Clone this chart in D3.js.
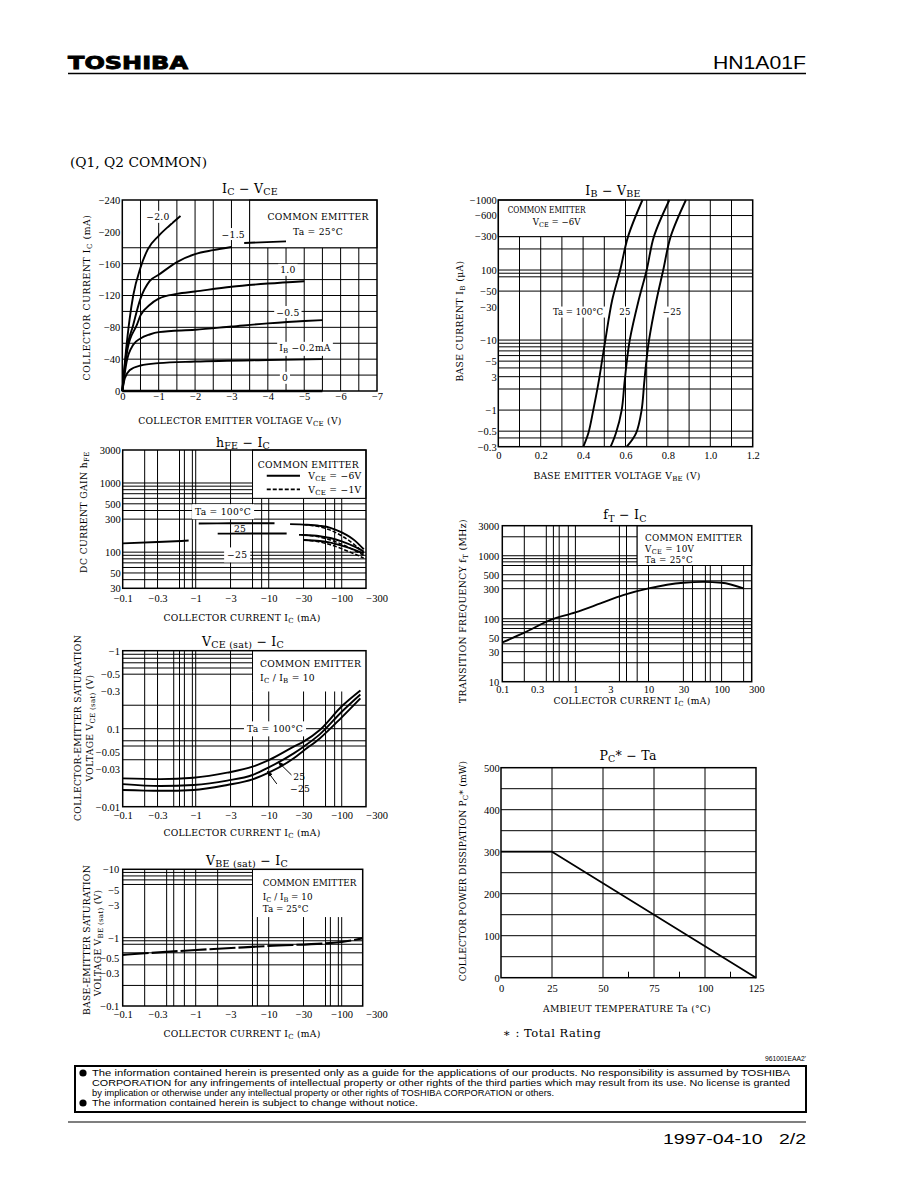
<!DOCTYPE html>
<html><head><meta charset="utf-8">
<script src="https://cdn.jsdelivr.net/npm/d3@7"></script>
<style>body{margin:0;background:#fff}svg{display:block}</style>
</head><body>
<script>
// ================= DATA =================
// IC – VCE  (|VCE| in V, |IC| in mA), common emitter, Ta = 25°C
const vceIb20 = [0, 0.1, 0.2, 0.3, 0.5, 0.7, 1.0, 1.3, 1.6];
const icIb20  = [0, 50, 90, 120, 155, 178, 195, 208, 220];
const vceIb15 = [0, 0.1, 0.3, 0.5, 0.75, 1.0, 1.5, 2.0, 2.5, 3.0, 3.2, 3.35, 4.5];
const icIb15  = [0, 45, 83, 116, 138, 146, 162, 172, 177, 181, null, 186, 188];
const vceIb10 = [0, 0.15, 0.4, 0.5, 0.75, 1.0, 1.5, 2.0, 3.0, 4.0, 5.0];
const icIb10  = [0, 54, 83, 95, 108, 116, 122, 125, 131, 135, 138];
const vceIb05 = [0, 0.12, 0.3, 0.5, 0.75, 1.0, 2.0, 3.0, 4.0, 5.0, 5.5];
const icIb05  = [0, 37, 58, 66, 71, 74, 77, 81, 85, 88, 89];
const vceIb02 = [0, 0.07, 0.2, 0.5, 1.0, 2.0, 4.0, 5.5];
const icIb02  = [0, 16, 26, 32, 35, 37, 39, 40];
const vceIb0  = [0, 5.5];
const icIb0   = [0, 0];

// IB – VBE  (|IB| in µA, |VBE| in V), VCE = -6V
const ibVals  = [0.3, 0.47, 1, 2.4, 5.2, 10, 37, 100, 300, 1000];
const vbe100  = [0.401, 0.425, 0.448, 0.472, 0.490, 0.505, 0.537, 0.575, 0.612, 0.680];
const vbe25   = [0.530, 0.555, 0.582, 0.595, 0.607, 0.620, 0.662, 0.700, 0.734, 0.807];
const vbeM25  = [0.606, 0.650, 0.676, 0.688, 0.699, 0.711, 0.746, 0.778, 0.813, 0.885];

// hFE – IC  (|IC| in mA); solid VCE=-6V, dashed VCE=-1V (gaps as in the scan)
const hfeIC    = [0.1, 0.3, 0.8, 1.1, 2, 5, 12, 15, 17.6, 19.6, 26, 30, 50, 70, 100, 150, 200];
const hfe100   = [null, null, null, 260, 261, 262, 262, null, null, 254, 252, 250, 240, 225, 193, 148, 110];
const hfe25    = [null, null, null, null, 185, 186, 186, 186, 186, null, 178, 177, 170, 160, 143, 120, 102];
const hfeM25   = [134, 140, 147, null, null, null, null, null, null, null, null, 150, 145, 137, 124, 108, 96];
const hfe100d  = [null, null, null, null, null, null, null, null, null, null, null, 250, 232, 208, 172, 128, 98];
const hfe25d   = [null, null, null, null, null, null, null, null, null, null, null, 177, 165, 150, 130, 106, 90];
const hfeM25d  = [null, null, null, null, null, null, null, null, null, null, null, 150, 140, 128, 112, 94, 82];

// fT – IC  (IC in mA, fT in MHz), VCE = 10V, Ta = 25°C
const ftIC   = [0.1, 0.2, 0.45, 1, 2.2, 4.5, 10, 30, 56, 100, 200];
const ftVals = [42, 60, 95, 126, 175, 237, 303, 373, 385, 373, 303];

// VCE(sat) – IC  (|IC| mA, |VCE(sat)| V), IC/IB = 10
const vcesIC  = [0.1, 0.33, 0.93, 2.7, 6, 10, 22, 30, 50, 100, 180];
const vces100 = [0.0231, 0.0226, 0.0235, 0.0273, 0.0326, 0.0396, 0.0588, 0.0682, 0.0962, 0.194, 0.31];
const vces25  = [0.0195, 0.0184, 0.0190, 0.0216, 0.0255, 0.0319, 0.0483, 0.0588, 0.0846, 0.165, 0.275];
const vcesM25 = [0.0164, 0.0160, 0.0164, 0.0190, 0.0224, 0.0273, 0.0417, 0.0522, 0.0751, 0.140, 0.245];

// VBE(sat) – IC  (|IC| mA, |VBE(sat)| V), IC/IB = 10, Ta = 25°C
const vbesIC  = [0.1, 1, 10, 100, 190];
const vbesVal = [0.56, 0.66, 0.755, 0.866, 0.975];

// PC* – Ta  (Ta °C, PC mW)
const paTa = [0, 25, 125];
const paPc = [300, 300, 0];

// ----- tick labels / grid values -----
const c1xTicks = [0,1,2,3,4,5,6,7],           c1xLabels = ["0","−1","−2","−3","−4","−5","−6","−7"];
const c1yTicks = [0,40,80,120,160,200,240],   c1yLabels = ["0","−40","−80","−120","−160","−200","−240"];
const c1xGrid = [0.5,1,1.5,2,2.5,3,3.5,4,4.5,5,5.5,6,6.5];
const c1yGrid = [20,40,60,80,100,120,140,160,180];

const c2xTicks = [0,0.2,0.4,0.6,0.8,1.0,1.2], c2xLabels = ["0","0.2","0.4","0.6","0.8","1.0","1.2"];
const c2yTicks = [0.3,0.5,1,3,5,10,30,50,100,300,600,1000];
const c2yLabels = ["−0.3","−0.5","−1","3","−5","−10","−30","−50","100","−300","−600","−1000"];
const c2xGrid = [0.1,0.2,0.3,0.4,0.5,0.6,0.7,0.8,0.9,1.0,1.1];
const c2yGrid = [0.4,0.5,1,2,3,4,5,6,7,8,9,10,50,80,90,100,200,300,600];

const icTicks = [0.1,0.3,1,3,10,30,100,300];
const icLabelsNeg = ["−0.1","−0.3","−1","−3","−10","−30","−100","−300"];
const icLabelsPos = ["0.1","0.3","1","3","10","30","100","300"];

const c3yTicks = [30,50,100,300,500,1000,3000], c3yLabels = ["30","50","100","300","500","1000","3000"];
const c3xGrid = [0.2,0.3,0.6,0.7,0.9,1,3,6,8,10,30,60,80,100];
const c3yGrid = [40,50,60,70,80,90,100,300,400,500,600,700,800,900,1000];

const c4yTicks = [10,30,50,100,300,500,1000,3000], c4yLabels = ["10","30","50","100","300","500","1000","3000"];
const c4xGrid = [0.2,0.4,0.5,0.6,0.8,1,4,5,7,10,30,40,60,70,100,200];
const c4yGrid = [20,30,40,50,60,70,80,90,100,300,400,500,700,800,900,1000,2000];

const c5yTicks = [0.01,0.03,0.05,0.1,0.3,0.5,1], c5yLabels = ["−0.01","−0.03","−0.05","0.1","−0.3","−0.5","−1"];
const c5xGrid = [0.2,0.3,0.5,0.6,0.7,0.9,1,3,6,10,30,60,80,100];
const c5yGrid = [0.04,0.06,0.07,0.1,0.2,0.5,0.6,0.7,0.8,0.9];

const c6xTicks = [0,25,50,75,100,125],        c6xLabels = ["0","25","50","75","100","125"];
const c6yTicks = [0,100,200,300,400,500],     c6yLabels = ["0","100","200","300","400","500"];
const c6xGrid = [25,50,75,100];
const c6yGrid = [50,100,150,200,250,300,350,400,450];
const c6minor = [62.5,87.5,112.5];

const c7yTicks = [0.1,0.3,0.5,1,3,5,10], c7yLabels = ["−0.1","−0.3","−0.5","−1","−3","−5","−10"];
const c7xGrid = [0.2,0.4,0.5,0.7,1,2,6,7,10,30,60,70,90,100];
const c7yGrid = [0.2,0.4,0.6,0.8,0.9,1,6,7,8,9];

// ================= DRAWING =================
const W = 918, H = 1188;
const SERIF = "'DejaVu Serif','Liberation Serif',serif";
const TICKF = "'Liberation Serif','DejaVu Serif',serif";
const SANS = "'Liberation Sans','DejaVu Sans',sans-serif";
const svg = d3.select('body').append('svg').attr('width', W).attr('height', H);
svg.append('rect').attr('width', W).attr('height', H).attr('fill', '#fff');

function rich(parent, parts, o) {
  const size = o.size || 9.2;
  const t = parent.append('text').attr('font-family', SERIF).attr('font-size', size)
    .attr('text-anchor', o.anchor || 'middle').attr('letter-spacing', o.ls == null ? 0.25 : o.ls)
    .attr('fill', '#000');
  if (o.len) t.attr('textLength', o.len).attr('lengthAdjust', 'spacingAndGlyphs');
  const off = o.center ? size * 0.36 : 0;
  if (o.rotate) t.attr('transform', `translate(${o.x + off},${o.y}) rotate(-90)`);
  else t.attr('x', o.x).attr('y', o.y + off);
  let cur = 0;
  parts.forEach(p => {
    const isSub = Array.isArray(p);
    const ts = t.append('tspan').text(isSub ? p[0] : p);
    const want = isSub ? size * 0.22 : 0;
    if (want !== cur) { ts.attr('dy', want - cur); cur = want; }
    if (isSub) ts.attr('font-size', size * 0.76);
  });
  return t;
}
function whiteBg(parent, t, px, py) {
  const b = t.node().getBBox();
  parent.insert('rect', () => t.node()).attr('x', b.x - px).attr('y', b.y - py)
    .attr('width', b.width + 2 * px).attr('height', b.height + 2 * py).attr('fill', '#fff');
}

function panel(c) {
  const g = svg.append('g');
  const x = c.x, y = c.y;
  const [xa, xb] = x.range(), [ya, yb] = y.range();
  const gr = g.append('g').attr('stroke', '#000').attr('stroke-width', 1);
  gr.selectAll(null).data(c.xGrid).join('line')
    .attr('x1', d => x(d)).attr('x2', d => x(d)).attr('y1', yb).attr('y2', ya);
  gr.selectAll(null).data(c.yGrid).join('line')
    .attr('y1', d => y(d)).attr('y2', d => y(d)).attr('x1', xa).attr('x2', xb);
  if (c.box) {
    const [bx0, bx1, by0, by1] = c.box;
    g.append('rect').attr('x', x(bx0)).attr('y', y(by1))
      .attr('width', x(bx1) - x(bx0)).attr('height', y(by0) - y(by1))
      .attr('fill', '#fff').attr('stroke', c.boxBorder === 'all' ? '#000' : 'none').attr('stroke-width', 1);
    if (c.boxBorder === 'left')
      g.append('line').attr('x1', x(bx0)).attr('x2', x(bx0)).attr('y1', y(by1)).attr('y2', y(by0))
        .attr('stroke', '#000').attr('stroke-width', 1);
  }
  g.append('rect').attr('x', xa).attr('y', yb).attr('width', xb - xa).attr('height', ya - yb)
    .attr('fill', 'none').attr('stroke', '#000').attr('stroke-width', 1.5);
  const styleAxis = a => { a.select('.domain').remove(); a.attr('font-family', TICKF).attr('font-size', 10.5); a.selectAll('text').attr('fill', '#000'); };
  g.append('g').attr('transform', `translate(${xa},0)`)
    .call(d3.axisLeft(y).tickValues(c.yTicks).tickFormat((d, i) => c.yLabels[i]).tickSize(0).tickPadding(c.yPad))
    .call(styleAxis);
  g.append('g').attr('transform', `translate(0,${ya})`)
    .call(d3.axisBottom(x).tickValues(c.xTicks).tickFormat((d, i) => c.xLabels[i]).tickSize(0).tickPadding(c.xPad))
    .call(styleAxis);
  return g;
}
function curve(g, c, xs, ys, o = {}) {
  const pts = xs.map((v, i) => [v, ys[i]]);
  const line = d3.line().defined(d => d[1] != null && d[0] != null)
    .x(d => c.x(d[0])).y(d => c.y(d[1])).curve(o.curve || d3.curveMonotoneX);
  g.append('path').attr('d', line(pts)).attr('fill', 'none').attr('stroke', '#000')
    .attr('stroke-width', o.w || 1.9).attr('stroke-dasharray', o.dash || null)
    .attr('stroke-linejoin', 'round');
}
const TS = 12.5; // chart title size

// ---------- Header ----------
svg.append('text').attr('x', 68).attr('y', 68.5).attr('font-family', "'DejaVu Sans',sans-serif")
  .attr('font-weight', 'bold').attr('font-size', 18.5).attr('textLength', 120).attr('lengthAdjust', 'spacingAndGlyphs')
  .attr('stroke', '#000').attr('stroke-width', 0.9).text('TOSHIBA');
svg.append('text').attr('x', 713).attr('y', 68.5).attr('font-family', SANS)
  .attr('font-size', 18.5).attr('textLength', 93).attr('lengthAdjust', 'spacingAndGlyphs').text('HN1A01F');
svg.append('line').attr('x1', 68).attr('x2', 806).attr('y1', 73.5).attr('y2', 73.5).attr('stroke', '#000').attr('stroke-width', 1.3);
svg.append('text').attr('x', 70).attr('y', 167).attr('font-family', SERIF).attr('font-size', 12)
  .attr('textLength', 137).attr('lengthAdjust', 'spacingAndGlyphs').text('(Q1, Q2 COMMON)');

// ---------- Chart 1 : IC – VCE ----------
{
  const c = { x: d3.scaleLinear([0, 7], [122.3, 377]), y: d3.scaleLinear([0, 240], [391, 200]),
    xGrid: c1xGrid, yGrid: c1yGrid, box: [3.5, 7, 180, 240], boxBorder: 'all',
    xTicks: c1xTicks, xLabels: c1xLabels, yTicks: c1yTicks, yLabels: c1yLabels, yPad: 2, xPad: 1.8 };
  const g = panel(c);
  curve(g, c, vceIb20, icIb20);
  curve(g, c, vceIb15, icIb15);
  curve(g, c, vceIb10, icIb10);
  curve(g, c, vceIb05, icIb05);
  curve(g, c, vceIb02, icIb02);
  curve(g, c, vceIb0, icIb0, { w: 2.6 });
  const L = (parts, vx, vy, bg) => { const t = rich(g, parts, { x: c.x(vx), y: c.y(vy), center: true }); if (bg) whiteBg(g, t, 2, 0.5); return t; };
  L(['−2.0'], 0.98, 218.6, true);
  L(['−1.5'], 3.05, 197, true);
  L(['1.0'], 4.55, 152, true);
  L(['−0.5'], 4.55, 99, true);
  L(['I', ['B'], '   −0.2mA'], 5.02, 54, true);
  L(['0'], 4.47, 16.3, true);
  L(['COMMON EMITTER'], 5.38, 219);
  L(['Ta = 25°C'], 5.38, 200);
  rich(svg, ['I', ['C'], '  −  V', ['CE']], { x: 250, y: 192.5, size: TS });
  rich(svg, ['COLLECTOR CURRENT   I', ['C'], '   (mA)'], { x: 87, y: 297.5, rotate: true, center: true, ls: 0.6 });
  rich(svg, ['COLLECTOR EMITTER VOLTAGE   V', ['CE'], '   (V)'], { x: 240, y: 423.5 });
}

// ---------- Chart 2 : IB – VBE ----------
{
  const c = { x: d3.scaleLinear([0, 1.2], [498.3, 752.7]), y: d3.scaleLog([0.3, 1000], [446.7, 200]),
    xGrid: c2xGrid, yGrid: c2yGrid, box: [0, 0.6, 300, 1000], boxBorder: 'all',
    xTicks: c2xTicks, xLabels: c2xLabels, yTicks: c2yTicks, yLabels: c2yLabels, yPad: 1.6, xPad: 4.5 };
  const g = panel(c);
  const cr = d3.curveCatmullRom.alpha(0.5);
  curve(g, c, vbe100, ibVals, { curve: cr });
  curve(g, c, vbe25, ibVals, { curve: cr });
  curve(g, c, vbeM25, ibVals, { curve: cr });
  const L = (parts, vx, vy, bg, o = {}) => { const t = rich(g, parts, Object.assign({ x: c.x(vx), y: c.y(vy), center: true }, o)); if (bg) whiteBg(g, t, 2, 0.5); return t; };
  L(['COMMON EMITTER'], 0.228, 722, false, { size: 8.6, len: 78, ls: 0 });
  L(['V', ['CE'], ' = −6V'], 0.275, 482, false, { size: 8.6, ls: 0 });
  L(['Ta = 100°C'], 0.376, 25.2, true, { size: 8.6, ls: 0 });
  L(['25'], 0.598, 25.2, true, { size: 8.6 });
  L(['−25'], 0.82, 25.2, true, { size: 8.6 });
  rich(svg, ['I', ['B'], '  −  V', ['BE']], { x: 613, y: 194.5, size: TS });
  rich(svg, ['BASE CURRENT   I', ['B'], '   (μA)'], { x: 460, y: 321, rotate: true, center: true, ls: 0.4 });
  rich(svg, ['BASE EMITTER VOLTAGE   V', ['BE'], '   (V)'], { x: 617, y: 478.5 });
}

// ---------- Chart 3 : hFE – IC ----------
{
  const c = { x: d3.scaleLog([0.1, 215], [122.7, 366]), y: d3.scaleLog([30, 3000], [588.3, 450]),
    xGrid: c3xGrid, yGrid: c3yGrid, box: [6, 215, 600, 3000], boxBorder: 'all',
    xTicks: icTicks, xLabels: icLabelsNeg, yTicks: c3yTicks, yLabels: c3yLabels, yPad: 2, xPad: 6 };
  const g = panel(c);
  curve(g, c, hfeIC, hfe100);
  curve(g, c, hfeIC, hfe25);
  curve(g, c, hfeIC, hfeM25);
  curve(g, c, hfeIC, hfe100d, { dash: '4,2', w: 1.5 });
  curve(g, c, hfeIC, hfe25d, { dash: '4,2', w: 1.5 });
  curve(g, c, hfeIC, hfeM25d, { dash: '4,2', w: 1.5 });
  const L = (parts, vx, vy, bg, anchor) => { const t = rich(g, parts, { x: c.x(vx), y: c.y(vy), center: true, anchor }); if (bg) whiteBg(g, t, 3, 2); return t; };
  L(['COMMON EMITTER'], 34.9, 1858);
  g.append('line').attr('x1', c.x(9.4)).attr('x2', c.x(26.8)).attr('y1', c.y(1272)).attr('y2', c.y(1272)).attr('stroke', '#000').attr('stroke-width', 1.9);
  g.append('line').attr('x1', c.x(9.4)).attr('x2', c.x(26.8)).attr('y1', c.y(809)).attr('y2', c.y(809)).attr('stroke', '#000').attr('stroke-width', 1.7).attr('stroke-dasharray', '4,2');
  L(['V', ['CE'], ' = −6V'], 34.9, 1272, false, 'start');
  L(['V', ['CE'], ' = −1V'], 34.9, 809, false, 'start');
  L(['Ta = 100°C'], 2.37, 382, true);
  L(['25'], 4.05, 216);
  L(['−25'], 3.7, 90.6, true);
  rich(svg, ['h', ['FE'], '  −  I', ['C']], { x: 243, y: 446.5, size: TS });
  rich(svg, ['DC CURRENT GAIN   h', ['FE']], { x: 84, y: 512, rotate: true, center: true, ls: 0.4 });
  rich(svg, ['COLLECTOR CURRENT   I', ['C'], '   (mA)'], { x: 242, y: 620.5 });
}

// ---------- Chart 4 : fT – IC ----------
{
  const c = { x: d3.scaleLog([0.1, 258], [502.3, 751.7]), y: d3.scaleLog([10, 3000], [681.7, 525.7]),
    xGrid: c4xGrid, yGrid: c4yGrid, box: [7, 258, 700, 3000], boxBorder: 'all',
    xTicks: icTicks, xLabels: icLabelsPos, yTicks: c4yTicks, yLabels: c4yLabels, yPad: 3, xPad: 4.2 };
  const g = panel(c);
  curve(g, c, ftIC, ftVals);
  const L = (parts, vx, vy) => rich(g, parts, { x: c.x(vx), y: c.y(vy), center: true, anchor: 'start', size: 8.8 });
  L(['COMMON EMITTER'], 8.96, 1930);
  L(['V', ['CE'], ' = 10V'], 8.96, 1290);
  L(['Ta = 25°C'], 8.96, 850);
  rich(svg, ['f', ['T'], '  −  I', ['C']], { x: 625, y: 519, size: TS });
  rich(svg, ['TRANSITION FREQUENCY   f', ['T'], '   (MHz)'], { x: 463, y: 611, rotate: true, center: true, ls: 0.4 });
  rich(svg, ['COLLECTOR CURRENT   I', ['C'], '   (mA)'], { x: 632, y: 704 });
}

// ---------- Chart 5 : VCE(sat) – IC ----------
{
  const c = { x: d3.scaleLog([0.1, 215], [122.7, 366]), y: d3.scaleLog([0.01, 1], [806.7, 650.7]),
    xGrid: c5xGrid, yGrid: c5yGrid, box: [6, 215, 0.3, 1], boxBorder: 'left',
    xTicks: icTicks, xLabels: icLabelsNeg, yTicks: c5yTicks, yLabels: c5yLabels, yPad: 2.7, xPad: 4.5 };
  const g = panel(c);
  curve(g, c, vcesIC, vces100);
  curve(g, c, vcesIC, vces25);
  curve(g, c, vcesIC, vcesM25);
  const L = (parts, vx, vy, bg, anchor) => { const t = rich(g, parts, { x: c.x(vx), y: c.y(vy), center: true, anchor }); if (bg) whiteBg(g, t, 3, 2); return t; };
  L(['COMMON EMITTER'], 7.6, 0.689, false, 'start');
  L(['I', ['C'], ' / I', ['B'], ' = 10'], 7.6, 0.451, false, 'start');
  L(['Ta = 100°C'], 12.2, 0.099, true);
  L(['25'], 21.6, 0.024, false, 'start');
  L(['−25'], 19.6, 0.0169, false, 'start');
  const defs = svg.append('defs');
  defs.append('marker').attr('id', 'ah').attr('viewBox', '0 0 10 10').attr('refX', 9).attr('refY', 5)
    .attr('markerWidth', 6).attr('markerHeight', 6).attr('orient', 'auto')
    .append('path').attr('d', 'M0,1 L10,5 L0,9 Z').attr('fill', '#000');
  const A = (fx, fy, tx, ty) => g.append('line').attr('x1', c.x(fx)).attr('y1', c.y(fy)).attr('x2', c.x(tx)).attr('y2', c.y(ty))
    .attr('stroke', '#000').attr('stroke-width', 1).attr('marker-end', 'url(#ah)');
  A(20.5, 0.0255, 13.5, 0.0375);
  A(12.9, 0.0196, 9.6, 0.0285);
  rich(svg, ['V', ['CE (sat)'], '  −  I', ['C']], { x: 243, y: 645.5, size: TS });
  rich(svg, ['COLLECTOR-EMITTER SATURATION'], { x: 78, y: 728, rotate: true, center: true, ls: 0.3 });
  rich(svg, ['VOLTAGE   V', ['CE (sat)'], '   (V)'], { x: 90, y: 728, rotate: true, center: true, ls: 0.3 });
  rich(svg, ['COLLECTOR CURRENT   I', ['C'], '   (mA)'], { x: 242, y: 835.5 });
}

// ---------- Chart 6 : PC* – Ta ----------
{
  const c = { x: d3.scaleLinear([0, 125], [501, 756]), y: d3.scaleLinear([0, 500], [977.7, 767.7]),
    xGrid: c6xGrid, yGrid: c6yGrid,
    xTicks: c6xTicks, xLabels: c6xLabels, yTicks: c6yTicks, yLabels: c6yLabels, yPad: 1.2, xPad: 6.5 };
  const g = panel(c);
  g.selectAll(null).data(c6minor).join('line').attr('x1', d => c.x(d)).attr('x2', d => c.x(d))
    .attr('y1', c.y(0)).attr('y2', c.y(0) - 6).attr('stroke', '#000').attr('stroke-width', 1);
  curve(g, c, paTa, paPc, { curve: d3.curveLinear, w: 1.7 });
  rich(svg, ['P', ['C'], '*  −  Ta'], { x: 628, y: 759.5, size: TS });
  rich(svg, ['COLLECTOR POWER DISSIPATION   P', ['C'], '*   (mW)'], { x: 463, y: 871, rotate: true, center: true, ls: 0.15 });
  rich(svg, ['AMBIEUT TEMPERATURE   Ta   (°C)'], { x: 627, y: 1011.5 });
  svg.append('text').attr('x', 503).attr('y', 1037).attr('font-family', SERIF).attr('font-size', 11.5)
    .attr('letter-spacing', 0.5).text('∗ : Total Rating');
}

// ---------- Chart 7 : VBE(sat) – IC ----------
{
  const c = { x: d3.scaleLog([0.1, 194], [122.7, 362.7]), y: d3.scaleLog([0.1, 10], [1006, 869.3]),
    xGrid: c7xGrid, yGrid: c7yGrid, box: [6, 194, 2, 10], boxBorder: 'left',
    xTicks: icTicks, xLabels: icLabelsNeg, yTicks: c7yTicks, yLabels: c7yLabels, yPad: 3.4, xPad: 4.2 };
  const g = panel(c);
  curve(g, c, vbesIC, vbesVal, { dash: '26,3', w: 2.1 });
  const L = (parts, vx, vy) => rich(g, parts, { x: c.x(vx), y: c.y(vy), center: true, anchor: 'start', size: 8.8, ls: 0 });
  L(['COMMON EMITTER'], 8.3, 6.26);
  L(['I', ['C'], ' / I', ['B'], ' = 10'], 8.3, 3.98);
  L(['Ta = 25°C'], 8.3, 2.6);
  rich(svg, ['V', ['BE (sat)'], '  −  I', ['C']], { x: 247, y: 864.5, size: TS });
  rich(svg, ['BASE-EMITTER SATURATION'], { x: 87, y: 940, rotate: true, center: true, ls: 0.3 });
  rich(svg, ['VOLTAGE   V', ['BE (sat)'], '   (V)'], { x: 97.5, y: 943, rotate: true, center: true, ls: 0.3 });
  rich(svg, ['COLLECTOR CURRENT   I', ['C'], '   (mA)'], { x: 242, y: 1036.5 });
}

// ---------- Footer ----------
svg.append('text').attr('x', 765).attr('y', 1061).attr('font-family', SANS).attr('font-size', 8)
  .attr('textLength', 41).attr('lengthAdjust', 'spacingAndGlyphs').text("961001EAA2'");
svg.append('rect').attr('x', 75).attr('y', 1066).attr('width', 731).attr('height', 46)
  .attr('fill', 'none').attr('stroke', '#000').attr('stroke-width', 2);
[1073, 1103].forEach(cy => svg.append('circle').attr('cx', 83).attr('cy', cy).attr('r', 3.6).attr('fill', '#000'));
const foot = [
  ["The information contained herein is presented only as a guide for the applications of our products. No responsibility is assumed by TOSHIBA", 698],
  ["CORPORATION for any infringements of intellectual property or other rights of the third parties which may result from its use. No license is granted", 698],
  ["by implication or otherwise under any intellectual property or other rights of TOSHIBA CORPORATION or others.", 462],
  ["The information contained herein is subject to change without notice.", 326]
];
foot.forEach(([s, len], i) => svg.append('text').attr('x', 92).attr('y', 1076 + i * 10).attr('font-family', SANS)
  .attr('font-size', 8.6).attr('textLength', len).attr('lengthAdjust', 'spacingAndGlyphs').text(s));
svg.append('line').attr('x1', 68).attr('x2', 806).attr('y1', 1122).attr('y2', 1122).attr('stroke', '#000').attr('stroke-width', 1.2);
svg.append('text').attr('x', 663).attr('y', 1144).attr('font-family', SANS).attr('font-size', 15.5)
  .attr('textLength', 143).attr('lengthAdjust', 'spacingAndGlyphs').attr('xml:space', 'preserve').text('1997-04-10   2/2');
</script>
</body></html>
